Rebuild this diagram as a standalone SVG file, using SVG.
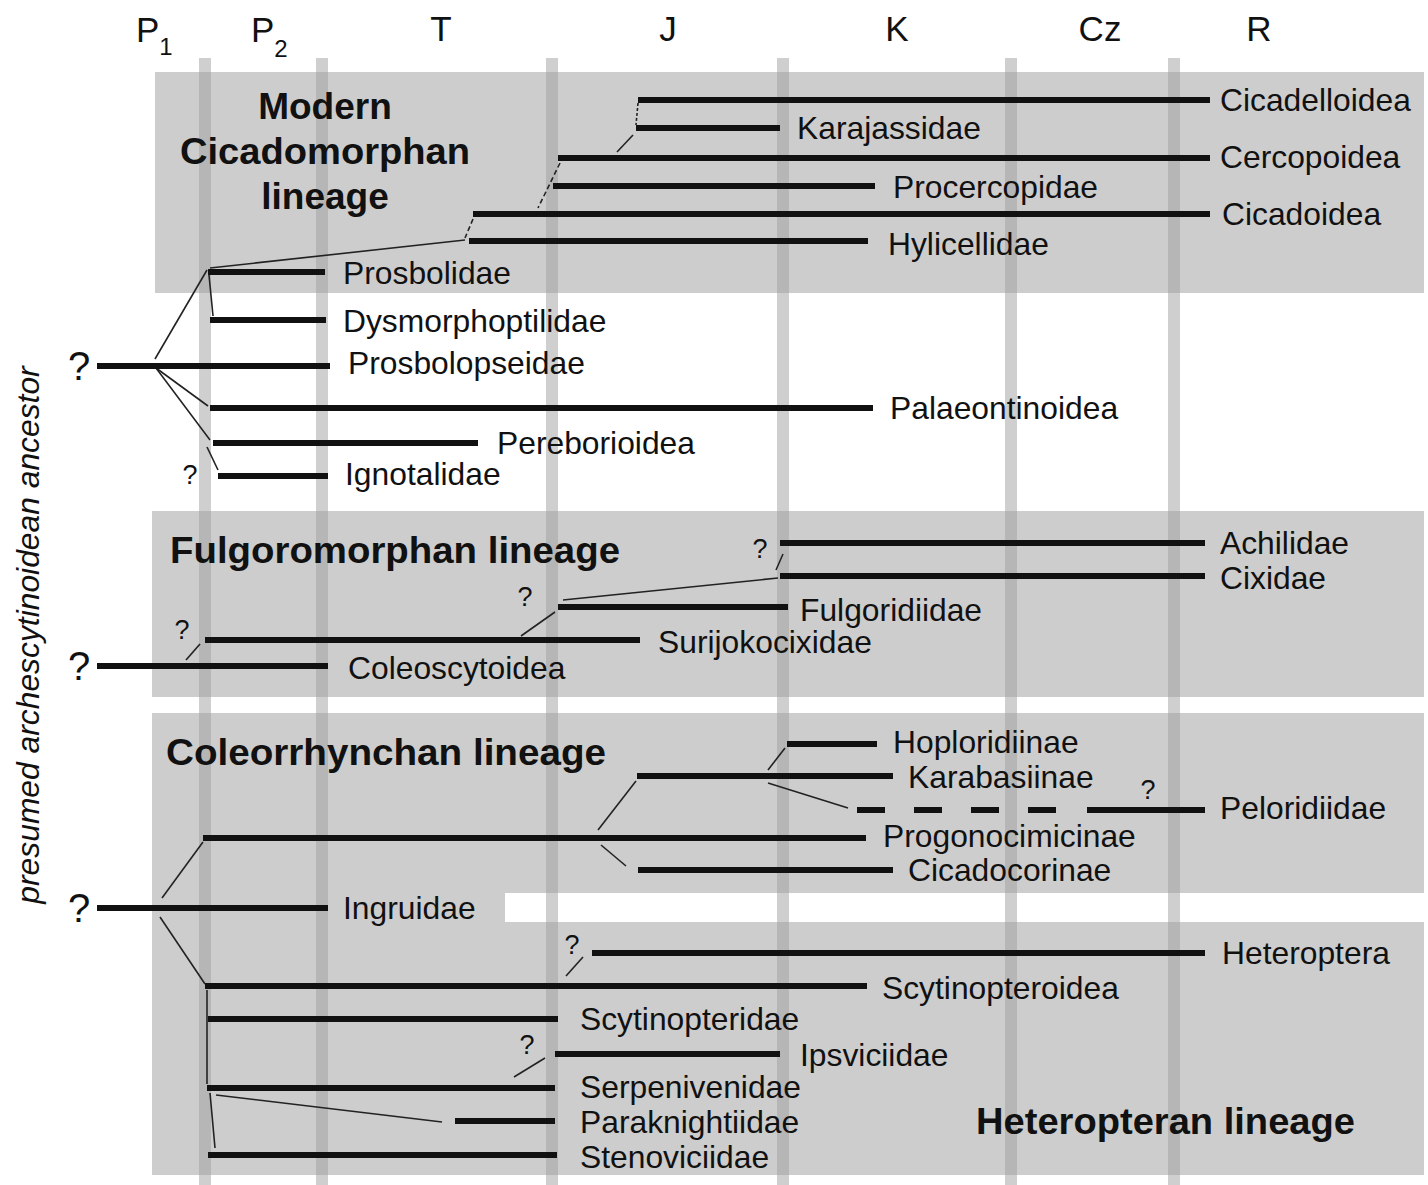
<svg xmlns="http://www.w3.org/2000/svg" width="1428" height="1185" viewBox="0 0 1428 1185">
<defs>
<style>
.bg{fill:#cdcdcd}
.stripe{fill:#a0a0a0;opacity:0.5}
.bar{stroke:#111;stroke-width:6;fill:none}
.conn{stroke:#222;stroke-width:1.6;fill:none}
.dsh{stroke-dasharray:5 3}
.lbl{font-family:"Liberation Sans",Arial,Helvetica,sans-serif;font-size:31.8px;fill:#111}
.hd{font-family:"Liberation Sans",Arial,Helvetica,sans-serif;font-size:37px;font-weight:bold;fill:#111}
.per{font-family:"Liberation Sans",Arial,Helvetica,sans-serif;font-size:35px;fill:#111}
.sub{font-size:24px}
.qb{font-family:"Liberation Sans",Arial,Helvetica,sans-serif;font-size:40px;fill:#111;text-anchor:middle}
.qs{font-family:"Liberation Sans",Arial,Helvetica,sans-serif;font-size:27px;fill:#111;text-anchor:middle}
</style>
</defs>
<rect width="1428" height="1185" fill="#ffffff"/>
<g id="background">
<rect class="bg" x="155" y="72" width="1269" height="221"/>
<rect class="bg" x="152" y="511" width="1272" height="186"/>
<path class="bg" d="M152 713 H1424 V893 H505 V922 H1424 V1175 H152 Z"/>
<rect class="stripe" x="199" y="58" width="12" height="1127"/>
<rect class="stripe" x="316" y="58" width="12" height="1127"/>
<rect class="stripe" x="546" y="58" width="12" height="1127"/>
<rect class="stripe" x="777" y="58" width="12" height="1127"/>
<rect class="stripe" x="1005" y="58" width="12" height="1127"/>
<rect class="stripe" x="1168" y="58" width="12" height="1127"/>
</g>
<g id="periods">
<text class="per" x="136" y="42">P<tspan class="sub" dy="13">1</tspan></text>
<text class="per" x="251" y="42">P<tspan class="sub" dy="15">2</tspan></text>
<text class="per" x="441" y="41" text-anchor="middle">T</text>
<text class="per" x="668" y="41" text-anchor="middle">J</text>
<text class="per" x="897" y="41" text-anchor="middle">K</text>
<text class="per" x="1100" y="41" text-anchor="middle">Cz</text>
<text class="per" x="1259" y="41" text-anchor="middle">R</text>
</g>
<g id="side-label">
<text class="lbl" font-style="italic" font-size="33" text-anchor="middle" transform="translate(39,635) rotate(-90)">presumed archescytinoidean ancestor</text>
</g>
<g id="lineage-titles">
<text class="hd" x="325" y="119" text-anchor="middle">Modern</text>
<text class="hd" x="325" y="164" text-anchor="middle" textLength="290" lengthAdjust="spacingAndGlyphs">Cicadomorphan</text>
<text class="hd" x="325" y="209" text-anchor="middle">lineage</text>
<text class="hd" x="170" y="563" textLength="450" lengthAdjust="spacingAndGlyphs">Fulgoromorphan lineage</text>
<text class="hd" x="166" y="765" textLength="440" lengthAdjust="spacingAndGlyphs">Coleorrhynchan lineage</text>
<text class="hd" x="976" y="1134" textLength="379" lengthAdjust="spacingAndGlyphs">Heteropteran lineage</text>
</g>
<g id="connectors">
<line class="conn" x1="638" y1="103" x2="636" y2="125" stroke-dasharray="3 2"/>
<line class="conn" x1="633" y1="135" x2="617" y2="152"/>
<line class="conn dsh" x1="560" y1="163" x2="538" y2="208"/>
<line class="conn dsh" x1="473" y1="219" x2="465" y2="238"/>
<line class="conn" x1="465" y1="240" x2="210" y2="268"/>
<line class="conn" x1="155" y1="359" x2="207" y2="270"/>
<line class="conn" x1="209" y1="275" x2="213" y2="316"/>
<line class="conn" x1="156" y1="368" x2="208" y2="406"/>
<line class="conn" x1="156" y1="368" x2="210" y2="440"/>
<line class="conn" x1="207" y1="447" x2="218" y2="470"/>
<line class="conn" x1="783" y1="554" x2="776" y2="570"/>
<line class="conn" x1="778" y1="578" x2="563" y2="600"/>
<line class="conn" x1="555" y1="612" x2="521" y2="636"/>
<line class="conn" x1="200" y1="644" x2="186" y2="660"/>
<line class="conn" x1="785" y1="748" x2="768" y2="770"/>
<line class="conn" x1="768" y1="783" x2="848" y2="808"/>
<line class="conn" x1="636" y1="781" x2="598" y2="830"/>
<line class="conn" x1="601" y1="845" x2="626" y2="866"/>
<line class="conn" x1="203" y1="842" x2="162" y2="898"/>
<line class="conn" x1="160" y1="917" x2="205" y2="984"/>
<line class="conn" x1="583" y1="957" x2="566" y2="976"/>
<line class="conn" x1="207" y1="990" x2="207" y2="1084"/>
<line class="conn" x1="210" y1="1093" x2="215" y2="1148"/>
<line class="conn" x1="216" y1="1095" x2="442" y2="1122"/>
<line class="conn" x1="545" y1="1058" x2="514" y2="1077"/>
</g>
<g id="n-cicadelloidea"><line class="bar" x1="638" y1="100" x2="1210" y2="100"/><text class="lbl" x="1220" y="111">Cicadelloidea</text></g>
<g id="n-karajassidae"><line class="bar" x1="636" y1="128" x2="780" y2="128"/><text class="lbl" x="797" y="139">Karajassidae</text></g>
<g id="n-cercopoidea"><line class="bar" x1="558" y1="158" x2="1210" y2="158"/><text class="lbl" x="1220" y="168">Cercopoidea</text></g>
<g id="n-procercopidae"><line class="bar" x1="553" y1="186" x2="875" y2="186"/><text class="lbl" x="893" y="198">Procercopidae</text></g>
<g id="n-cicadoidea"><line class="bar" x1="473" y1="214" x2="1210" y2="214"/><text class="lbl" x="1222" y="225">Cicadoidea</text></g>
<g id="n-hylicellidae"><line class="bar" x1="469" y1="241" x2="868" y2="241"/><text class="lbl" x="888" y="255">Hylicellidae</text></g>
<g id="n-prosbolidae"><line class="bar" x1="208" y1="272" x2="325" y2="272"/><text class="lbl" x="343" y="284">Prosbolidae</text></g>
<g id="n-dysmorphoptilidae"><line class="bar" x1="210" y1="320" x2="326" y2="320"/><text class="lbl" x="343" y="332">Dysmorphoptilidae</text></g>
<g id="n-prosbolopseidae"><text class="qb" x="79" y="380">?</text><line class="bar" x1="97" y1="366" x2="330" y2="366"/><text class="lbl" x="348" y="374">Prosbolopseidae</text></g>
<g id="n-palaeontinoidea"><line class="bar" x1="210" y1="408" x2="873" y2="408"/><text class="lbl" x="890" y="419">Palaeontinoidea</text></g>
<g id="n-pereborioidea"><line class="bar" x1="213" y1="443" x2="478" y2="443"/><text class="lbl" x="497" y="454">Pereborioidea</text></g>
<g id="n-ignotalidae"><text class="qs" x="190" y="484">?</text><line class="bar" x1="218" y1="476" x2="328" y2="476"/><text class="lbl" x="345" y="485">Ignotalidae</text></g>
<g id="n-achilidae"><text class="qs" x="760" y="558">?</text><line class="bar" x1="780" y1="543" x2="1205" y2="543"/><text class="lbl" x="1220" y="554">Achilidae</text></g>
<g id="n-cixidae"><line class="bar" x1="780" y1="576" x2="1205" y2="576"/><text class="lbl" x="1220" y="589">Cixidae</text></g>
<g id="n-fulgoridiidae"><text class="qs" x="525" y="606">?</text><line class="bar" x1="558" y1="607" x2="788" y2="607"/><text class="lbl" x="800" y="621">Fulgoridiidae</text></g>
<g id="n-surijokocixidae"><text class="qs" x="182" y="639">?</text><line class="bar" x1="205" y1="640" x2="640" y2="640"/><text class="lbl" x="658" y="653">Surijokocixidae</text></g>
<g id="n-coleoscytoidea"><text class="qb" x="79" y="680">?</text><line class="bar" x1="97" y1="666" x2="328" y2="666"/><text class="lbl" x="348" y="679">Coleoscytoidea</text></g>
<g id="n-hoploridiinae"><line class="bar" x1="787" y1="744" x2="877" y2="744"/><text class="lbl" x="893" y="753">Hoploridiinae</text></g>
<g id="n-karabasiinae"><line class="bar" x1="637" y1="776" x2="893" y2="776"/><text class="lbl" x="908" y="788">Karabasiinae</text></g>
<g id="n-peloridiidae"><line class="bar" x1="857" y1="810" x2="1058" y2="810" stroke-dasharray="28 29"/><line class="bar" x1="1087" y1="810" x2="1205" y2="810"/><text class="qs" x="1148" y="799">?</text><text class="lbl" x="1220" y="819">Peloridiidae</text></g>
<g id="n-progonocimicinae"><line class="bar" x1="203" y1="838" x2="866" y2="838"/><text class="lbl" x="883" y="847">Progonocimicinae</text></g>
<g id="n-cicadocorinae"><line class="bar" x1="638" y1="870" x2="893" y2="870"/><text class="lbl" x="908" y="881">Cicadocorinae</text></g>
<g id="n-ingruidae"><text class="qb" x="79" y="922">?</text><line class="bar" x1="97" y1="908" x2="328" y2="908"/><text class="lbl" x="343" y="919">Ingruidae</text></g>
<g id="n-heteroptera"><text class="qs" x="572" y="954">?</text><line class="bar" x1="592" y1="953" x2="1205" y2="953"/><text class="lbl" x="1222" y="964">Heteroptera</text></g>
<g id="n-scytinopteroidea"><line class="bar" x1="205" y1="986" x2="867" y2="986"/><text class="lbl" x="882" y="999">Scytinopteroidea</text></g>
<g id="n-scytinopteridae"><line class="bar" x1="208" y1="1019" x2="558" y2="1019"/><text class="lbl" x="580" y="1030">Scytinopteridae</text></g>
<g id="n-ipsviciidae"><text class="qs" x="527" y="1054">?</text><line class="bar" x1="555" y1="1054" x2="780" y2="1054"/><text class="lbl" x="800" y="1066">Ipsviciidae</text></g>
<g id="n-serpenivenidae"><line class="bar" x1="207" y1="1088" x2="555" y2="1088"/><text class="lbl" x="580" y="1098">Serpenivenidae</text></g>
<g id="n-paraknightiidae"><line class="bar" x1="455" y1="1121" x2="555" y2="1121"/><text class="lbl" x="580" y="1133">Paraknightiidae</text></g>
<g id="n-stenoviciidae"><line class="bar" x1="208" y1="1155" x2="557" y2="1155"/><text class="lbl" x="580" y="1168">Stenoviciidae</text></g>
</svg>
